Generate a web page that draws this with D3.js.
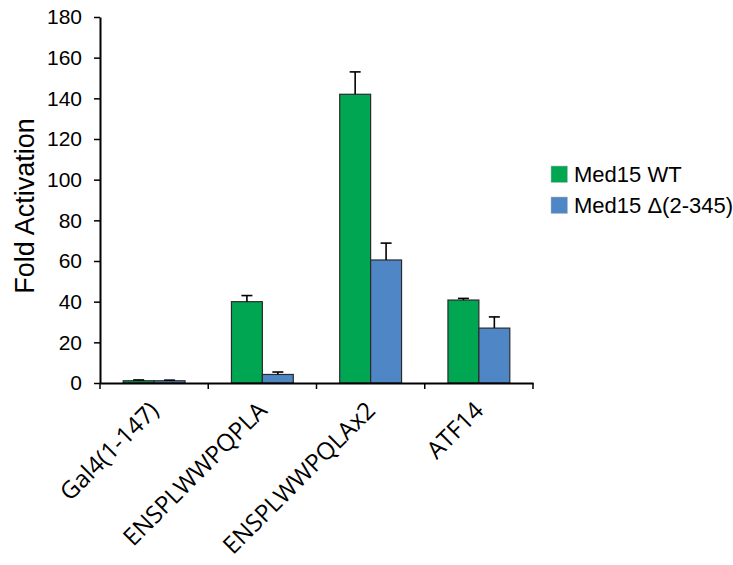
<!DOCTYPE html>
<html>
<head>
<meta charset="utf-8">
<script src="https://cdn.jsdelivr.net/npm/d3@7"></script>
<style>
  body { margin: 0; background: #fff; }
  svg { display: block; }
</style>
</head>
<body>
<svg id="chart" width="733" height="565"></svg>
<script>
// ---- data ----
const categories = ["Gal4(1-147)", "ENSPLWWPQPLA", "ENSPLWWPQLAx2", "ATF14"];
const seriesNames = ["Med15 WT", "Med15 \u0394(2-345)"];
const wtValues = [1.1, 40, 142, 40.8];
const wtErrors = [0.4, 3, 11, 0.8];
const delValues = [1.1, 4.2, 60.5, 27];
const delErrors = [0.3, 1.2, 8.3, 5.5];
const yTicks = [0, 20, 40, 60, 80, 100, 120, 140, 160, 180];
const colors = ["#00A651", "#4F86C6"];

(function () {
// ---- layout ----
const svg = d3.select("#chart");
const mLeft = 100, mRight = 533, mTop = 17, mBottom = 383;

const x = d3.scaleBand().domain(categories).range([mLeft, mRight]).paddingInner(0).paddingOuter(0);
const inner = d3.scaleBand().domain([0, 1]).range([0, x.bandwidth()]).paddingInner(0).paddingOuter(0.75);
const y = d3.scaleLinear().domain([0, 180]).range([mBottom, mTop]);

const series = [
  { name: seriesNames[0], values: wtValues, errors: wtErrors, color: colors[0] },
  { name: seriesNames[1], values: delValues, errors: delErrors, color: colors[1] }
];

// bars
series.forEach((s, si) => {
  const g = svg.append("g");
  g.selectAll("rect").data(categories).join("rect")
    .attr("x", c => x(c) + inner(si))
    .attr("y", (c, i) => y(s.values[i]))
    .attr("width", inner.bandwidth())
    .attr("height", (c, i) => y(0) - y(s.values[i]))
    .attr("fill", s.color)
    .attr("stroke", "#2b2b2b")
    .attr("stroke-width", 1.2);
  // error bars (upper only)
  const eg = svg.append("g").attr("stroke", "#000").attr("stroke-width", 1.6);
  categories.forEach((c, i) => {
    const cx = x(c) + inner(si) + inner.bandwidth() / 2;
    eg.append("line").attr("x1", cx).attr("x2", cx)
      .attr("y1", y(s.values[i])).attr("y2", y(s.values[i] + s.errors[i]));
    eg.append("line").attr("x1", cx - 5.5).attr("x2", cx + 5.5)
      .attr("y1", y(s.values[i] + s.errors[i])).attr("y2", y(s.values[i] + s.errors[i]));
  });
});

// y axis
const yAxis = d3.axisLeft(y).tickValues(yTicks).tickSize(6).tickPadding(12).tickSizeOuter(0);
const yg = svg.append("g").attr("transform", `translate(${mLeft},0)`).call(yAxis);
yg.select(".domain").attr("stroke", "#000").attr("stroke-width", 2);
yg.selectAll(".tick line").attr("stroke", "#000").attr("stroke-width", 1.5);
yg.selectAll(".tick text").attr("font-family", "Liberation Sans, Arial, sans-serif")
  .attr("font-size", 21).attr("fill", "#000");

// x axis
const xAxis = d3.axisBottom(x).tickValues([]).tickSizeOuter(0);
const xg = svg.append("g").attr("transform", `translate(0,${mBottom})`).call(xAxis);
xg.select(".domain").attr("stroke", "#000").attr("stroke-width", 2);
// category boundary ticks
const boundaries = categories.map(c => x(c)).concat([x.range()[1]]);
xg.selectAll("line.bt").data(boundaries).join("line").attr("class", "bt")
  .attr("x1", d => d).attr("x2", d => d).attr("y1", 0).attr("y2", 6)
  .attr("stroke", "#000").attr("stroke-width", 1.5);

// x labels rotated
svg.append("g").selectAll("text").data(categories).join("text")
  .attr("transform", c => `translate(${x(c) + x.bandwidth() / 2 + 6},412) rotate(-45)`)
  .attr("text-anchor", "end")
  .attr("font-family", "Open Sans, sans-serif")
  .attr("font-size", 24)
  .attr("fill", "#000")
  .text(c => c);

// y title
svg.append("text")
  .attr("transform", `translate(34,${(mTop + mBottom) / 2 + 6}) rotate(-90)`)
  .attr("text-anchor", "middle")
  .attr("font-family", "Liberation Sans, Arial, sans-serif")
  .attr("font-size", 27)
  .attr("fill", "#000")
  .text("Fold Activation");

// legend
const lg = svg.append("g").attr("transform", "translate(551,166)");
series.forEach((s, i) => {
  lg.append("rect").attr("x", 0).attr("y", i * 31).attr("width", 16.5).attr("height", 16.5)
    .attr("fill", s.color).attr("stroke", "#bbb").attr("stroke-width", 0.5);
  lg.append("text").attr("x", 23).attr("y", i * 31 + 16)
    .attr("font-family", "Liberation Sans, Arial, sans-serif")
    .attr("font-size", 22).attr("fill", "#000")
    .text(s.name);
});
})();
</script>
</body>
</html>
